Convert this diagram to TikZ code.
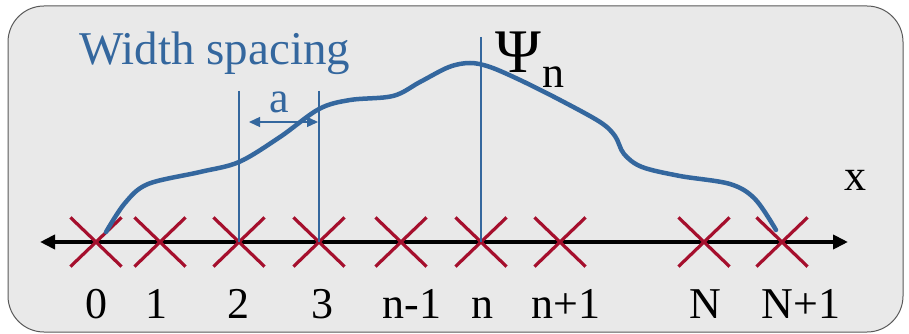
\documentclass[tikz,border=0pt]{standalone}
\usepackage{fontspec}
\setmainfont{Liberation Serif}
\usetikzlibrary{arrows.meta,shapes.misc}
\definecolor{wave}{HTML}{34679E}
\definecolor{xred}{HTML}{A50F2D}
\definecolor{panel}{HTML}{E9E9E9}
\begin{document}
\begin{tikzpicture}[x=1pt,y=-1pt,
  site/.style={cross out,draw=xred,line width=3.2pt,minimum width=48pt,minimum height=46pt,inner sep=0pt},
  lab/.style={anchor=base,font=\fontsize{44}{50}\selectfont,inner sep=0pt},
  guide/.style={draw=wave,line width=1.4pt},
  axis/.style={line width=3.8pt,{Triangle[length=15pt,width=14pt]}-{Triangle[length=15pt,width=14pt]}}]
\useasboundingbox (0,0) rectangle (909,334);
\draw[draw=gray!70!black,fill=panel,line width=1pt,rounded corners=36pt] (8,6) rectangle (903,332);
% axis
\coordinate (axL) at (40,242);
\coordinate (axR) at (848,242);
\draw[axis] (axL) -- (axR);
% sites
\node[site] (s0) at (96,242) {};
\node[site] (s1) at (160,242) {};
\node[site] (s2) at (239,242) {};
\node[site] (s3) at (319,242) {};
\node[site] (snm) at (401,242) {};
\node[site] (sn) at (481,242) {};
\node[site] (snp) at (560,242) {};
\node[site] (sN) at (704,242) {};
\node[site] (sNp) at (782,242) {};
% labels
\node[lab] (l0) at (96,318) {0};
\node[lab] (l1) at (156,318) {1};
\node[lab] (l2) at (238,318) {2};
\node[lab] (l3) at (322,318) {3};
\node[lab] (lnm) at (412,318) {n-1};
\node[lab] (ln) at (482,318) {n};
\node[lab] (lnp) at (566,318) {n+1};
\node[lab] (lN) at (705,318) {N};
\node[lab] (lNp) at (801,318) {N+1};
% guides
\coordinate (g2) at (239,91);
\coordinate (g3) at (319,91);
\coordinate (gn) at (481,37);
\draw[guide] (g2) -- (s2.center);
\draw[guide] (g3) -- (s3.center);
\draw[guide] (gn) -- (sn.center);
% spacing arrow
\coordinate (aL) at (249,122);
\coordinate (aR) at (318,122);
\draw[draw=wave,line width=1.3pt,{Triangle[length=11pt,width=10pt]}-{Triangle[length=11pt,width=10pt]}] (aL) -- (aR);
\node[lab,text=wave] (la) at (279,113) {a};
% wave function
\draw[wave,line width=4.5pt,line cap=round] plot[smooth,tension=0.55] coordinates {
 (106,232) (125,203) (148,184) (200,172) (239,162) (280,137) (319,109) (350,100) (393,96) (420,82) (449,67) (470,63) (490,67) (520,80) (560,100) (600,122) (615,136) (624,154) (642,167) (680,176) (730,184) (755,199) (776,230)};
% texts
\node[anchor=base west,inner sep=0pt,text=wave,font=\fontsize{47}{54}\selectfont] (title) at (79,65) {Width spacing};
\node[anchor=base,inner sep=0pt,font=\fontsize{62}{70}\selectfont] (psi) at (518,73) {Ψ};
\node[anchor=base west,inner sep=0pt,font=\fontsize{44}{50}\selectfont] (psin) at (542,88) {n};
\node[lab] (lx) at (855,190) {x};
\end{tikzpicture}
\end{document}
